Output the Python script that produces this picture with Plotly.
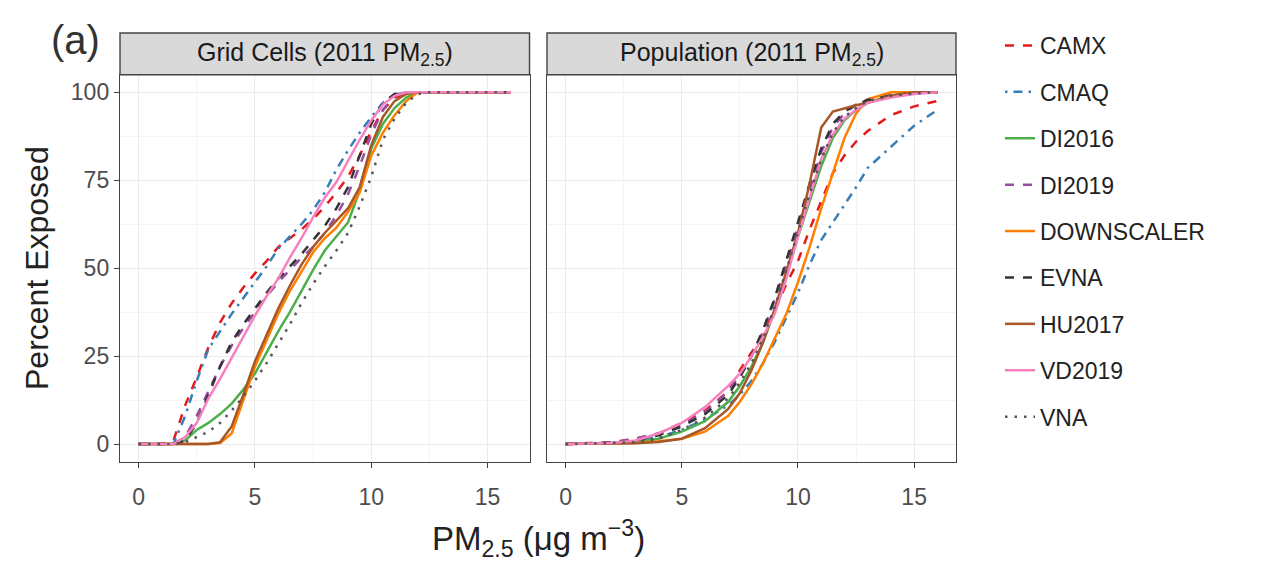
import plotly.graph_objects as go

# ---------------- data ----------------
SERIES = ["CAMX", "CMAQ", "DI2016", "DI2019", "DOWNSCALER", "EVNA", "HU2017", "VD2019", "VNA"]

X_LEFT = [0, 1, 1.5, 2, 2.5, 3, 3.5, 4, 4.5, 5, 5.5, 6, 6.5, 7, 7.5, 8, 8.5, 9, 9.5, 10, 10.5, 11, 11.5, 12, 12.5, 16]
CAMX_L = [0, 0, 1, 11, 19, 27.5, 34.5, 40, 44.5, 48.5, 52, 56, 58.5, 61, 64, 67.5, 71.5, 76, 82, 89, 95, 98.5, 99.7, 100, 100, 100]
CMAQ_L = [0, 0, 0, 8, 18, 27, 32, 37, 41.5, 46, 50.5, 55.5, 59, 62.5, 66.5, 71.5, 78, 83.5, 88.5, 93, 97, 99.3, 100, 100, 100, 100]
DI2016_L = [0, 0, 0, 1, 4, 6, 8.5, 11.5, 15.5, 20, 26, 32, 37.5, 43.5, 49.5, 55, 59, 63, 72, 84, 91, 95.5, 98.5, 100, 100, 100]
DI2019_L = [0, 0, 0, 2, 8, 15, 22, 28, 33, 37.5, 42, 46, 49.5, 53, 56, 60, 65, 71, 79, 88, 95, 99, 100, 100, 100, 100]
DOWNSCALER_L = [0, 0, 0, 0, 0, 0, 0.3, 3, 12.5, 22, 29.5, 37, 43.5, 49, 54.5, 58.5, 61.5, 66, 71.5, 82, 88.5, 93.5, 97.5, 100, 100, 100]
EVNA_L = [0, 0, 0, 1, 6, 14, 22, 29, 34, 38.5, 43, 47, 50.5, 54, 58, 62, 67, 73, 82, 91, 97, 99.5, 100, 100, 100, 100]
HU2017_L = [0, 0, 0, 0, 0, 0, 0.5, 5, 14, 23.5, 31, 38.5, 45, 51, 56, 60, 63.5, 67, 73, 85, 93, 97.5, 99.5, 100, 100, 100]
VD2019_L = [0, 0, 0, 2, 6, 13, 18.5, 24.5, 30.5, 36.5, 42, 47, 53, 58.5, 64.5, 70, 74.5, 80.5, 86.5, 92, 96.5, 99, 100, 100, 100, 100]
VNA_L = [0, 0, 0, 0.5, 2, 3.5, 6, 9.5, 13.5, 18, 23, 28.5, 34, 40, 45.5, 50.5, 55, 60, 67.5, 76, 86.5, 92.5, 97, 99.5, 100, 100]

X_RIGHT = [0, 2, 3, 4, 5, 6, 7, 7.5, 8, 8.5, 9, 9.5, 10, 10.5, 11, 11.5, 12, 12.5, 13, 14, 15, 16]
CAMX_R = [0, 0.5, 1.5, 3, 6, 9.5, 15, 21, 26, 31.5, 38, 45.5, 52, 61, 69, 77, 82, 86, 89, 93.5, 96, 97.5]
CMAQ_R = [0, 0.3, 1, 2, 4, 7, 11, 14, 18, 23, 29, 36, 43, 51, 58, 63, 68, 73, 78.5, 84.5, 90.5, 95]
DI2016_R = [0, 0.2, 0.5, 1.5, 3.5, 6.5, 12, 16.5, 22, 29, 38, 48, 59, 69, 79, 87, 92, 95, 97, 99, 100, 100]
DI2019_R = [0, 0.5, 1.5, 3, 5.5, 9, 15, 19.5, 25, 32, 41, 51, 62, 72, 83, 90, 94, 96.5, 98, 99.5, 100, 100]
DOWNSCALER_R = [0, 0.1, 0.3, 0.8, 1.5, 3.5, 8, 12, 17, 23, 30, 37, 46, 56, 67, 77, 87, 94, 98, 100, 100, 100]
EVNA_R = [0, 0.3, 1, 2.5, 5, 8.5, 14, 19, 25, 32.5, 41.5, 52, 63, 74, 84, 91, 94.5, 96.5, 97.8, 99, 100, 100]
HU2017_R = [0, 0.1, 0.2, 0.6, 1.5, 4.5, 10, 14.5, 21, 29, 38.5, 49, 60, 74, 90, 94.5, 95.5, 96.3, 97, 99, 100, 100]
VD2019_R = [0, 0.3, 1, 3, 6, 10.5, 16.5, 20, 25, 30.5, 37, 47, 59, 70, 81, 88, 92.5, 95, 97, 98.5, 99.5, 100]
VNA_R = [0, 0.2, 0.5, 1.5, 4, 7.5, 13, 17.5, 23, 30, 39, 49.5, 60.5, 71, 81, 88.5, 93, 95.5, 97.5, 99, 99.7, 100]

X_TICKS = [0, 5, 10, 15]
Y_TICKS = [0, 25, 50, 75, 100]
PANEL_TITLES = ["Grid Cells (2011 PM<sub>2.5</sub>)", "Population (2011 PM<sub>2.5</sub>)"]

LEFT = {"CAMX": CAMX_L, "CMAQ": CMAQ_L, "DI2016": DI2016_L, "DI2019": DI2019_L,
        "DOWNSCALER": DOWNSCALER_L, "EVNA": EVNA_L, "HU2017": HU2017_L,
        "VD2019": VD2019_L, "VNA": VNA_L}
RIGHT = {"CAMX": CAMX_R, "CMAQ": CMAQ_R, "DI2016": DI2016_R, "DI2019": DI2019_R,
         "DOWNSCALER": DOWNSCALER_R, "EVNA": EVNA_R, "HU2017": HU2017_R,
         "VD2019": VD2019_R, "VNA": VNA_R}

# ---------------- styles ----------------
COLORS = {"CAMX": "#E41A1C", "CMAQ": "#377EB8", "DI2016": "#4DAF4A", "DI2019": "#984EA3",
          "DOWNSCALER": "#FF7F00", "EVNA": "#333333", "HU2017": "#A65628",
          "VD2019": "#F781BF", "VNA": "#555555"}
DASHED = "9px,9px"
DOTDASH = "2.5px,6px,9px,6px"
DOTTED = "2.5px,7px"
DASHES = {"CAMX": DASHED, "CMAQ": DOTDASH, "DI2016": "solid", "DI2019": DASHED,
          "DOWNSCALER": "solid", "EVNA": DASHED, "HU2017": "solid",
          "VD2019": "solid", "VNA": DOTTED}

W, H = 1261, 562
FONT = "Liberation Sans, Arial, sans-serif"

fig = go.Figure()
for name in SERIES:
    fig.add_trace(go.Scatter(
        x=X_LEFT, y=LEFT[name], mode="lines", name=name, legendgroup=name,
        line=dict(color=COLORS[name], dash=DASHES[name], width=2.5),
        xaxis="x", yaxis="y", showlegend=True))
for name in SERIES:
    fig.add_trace(go.Scatter(
        x=X_RIGHT, y=RIGHT[name], mode="lines", name=name, legendgroup=name,
        line=dict(color=COLORS[name], dash=DASHES[name], width=2.5),
        xaxis="x2", yaxis="y2", showlegend=False))

def px_x(p):
    return p / W

def px_y(p):
    return (H - p) / H

LEFT_DOM = [px_x(120), px_x(529.5)]
RIGHT_DOM = [px_x(547), px_x(956)]
Y_DOM = [px_y(461.6), px_y(74.7)]
STRIP_TOP = px_y(33)

common_x = dict(range=[-0.8, 16.8], tickmode="array", tickvals=X_TICKS,
                showgrid=True, gridcolor="#EBEBEB", gridwidth=1.3,
                minor=dict(dtick=2.5, tick0=0, showgrid=True, gridcolor="#F4F4F4", gridwidth=0.7, ticks=""),
                zeroline=False, showline=True, mirror=True, linecolor="#444444", linewidth=1.4,
                ticks="outside", ticklen=5, tickwidth=1.1, tickcolor="#444444",
                tickfont=dict(family=FONT, size=23, color="#4D4D4D"),
                ticklabelstandoff=10, fixedrange=True)
common_y = dict(range=[-5, 105], tickmode="array", tickvals=Y_TICKS,
                showgrid=True, gridcolor="#EBEBEB", gridwidth=1.3,
                minor=dict(dtick=12.5, tick0=0, showgrid=True, gridcolor="#F4F4F4", gridwidth=0.7, ticks=""),
                zeroline=False, showline=True, mirror=True, linecolor="#444444", linewidth=1.4,
                tickcolor="#444444", ticklen=5, tickwidth=1.1,
                tickfont=dict(family=FONT, size=23, color="#4D4D4D"), fixedrange=True)

fig.update_layout(
    width=W, height=H, margin=dict(l=0, r=0, t=0, b=0),
    paper_bgcolor="white", plot_bgcolor="white",
    font=dict(family=FONT, color="#222222"),
    xaxis=dict(domain=LEFT_DOM, anchor="y", **common_x),
    xaxis2=dict(domain=RIGHT_DOM, anchor="y2", **common_x),
    yaxis=dict(domain=Y_DOM, anchor="x", ticks="outside", showticklabels=True, **common_y),
    yaxis2=dict(domain=Y_DOM, anchor="x2", ticks="", showticklabels=False, **common_y),
    legend=dict(x=px_x(1000), y=px_y(24), xanchor="left", yanchor="top",
                font=dict(family=FONT, size=23, color="#222222"),
                tracegroupgap=13.5, bgcolor="rgba(0,0,0,0)", borderwidth=0),
    showlegend=True,
)

# facet strips
for dom, title in zip([LEFT_DOM, RIGHT_DOM], PANEL_TITLES):
    fig.add_shape(type="rect", xref="paper", yref="paper",
                  x0=dom[0], x1=dom[1], y0=Y_DOM[1], y1=STRIP_TOP,
                  fillcolor="#D9D9D9", line=dict(color="#444444", width=1.4), layer="above")
    fig.add_annotation(xref="paper", yref="paper", x=(dom[0] + dom[1]) / 2,
                       y=(Y_DOM[1] + STRIP_TOP) / 2, text=title, showarrow=False,
                       font=dict(family=FONT, size=25, color="#1A1A1A"),
                       xanchor="center", yanchor="middle")

# axis titles and panel label
fig.add_annotation(xref="paper", yref="paper", x=(LEFT_DOM[0] + RIGHT_DOM[1]) / 2, y=px_y(538),
                   text="PM<sub>2.5</sub> (μg m<sup>−3</sup>)", showarrow=False,
                   font=dict(family=FONT, size=33, color="#222222"),
                   xanchor="center", yanchor="middle")
fig.add_annotation(xref="paper", yref="paper", x=px_x(37), y=px_y(268),
                   text="Percent Exposed", showarrow=False, textangle=-90,
                   font=dict(family=FONT, size=32, color="#222222"),
                   xanchor="center", yanchor="middle")
fig.add_annotation(xref="paper", yref="paper", x=px_x(75), y=px_y(40),
                   text="(a)", showarrow=False,
                   font=dict(family=FONT, size=40, color="#333333"),
                   xanchor="center", yanchor="middle")

fig.write_html("out.html", config={"displayModeBar": False},
               post_script="document.body.style.margin='0';document.body.style.overflow='hidden';")
